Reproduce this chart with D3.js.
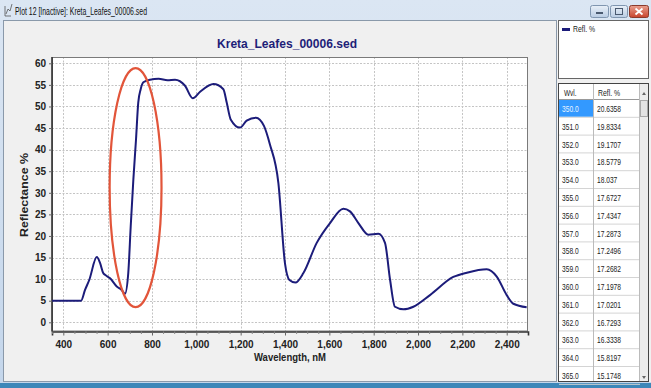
<!DOCTYPE html>
<html><head><meta charset="utf-8">
<script src="https://cdn.jsdelivr.net/npm/d3@7"></script>
<style>
body{margin:0;background:#f0f0f0}
svg{display:block;font-family:"Liberation Sans",Arial,sans-serif}
</style>
</head><body>
<svg id="c" width="651" height="388"></svg>
<script>
// ---- data ----
const wavelengths = [350,480,498,517,551,566,580,588,611,641,663,678,693,704,716,728,738,749,761,791,830,870,904,949,984,1017,1077,1122,1137,1155,1197,1227,1269,1305,1332,1370,1400,1420,1447,1483,1543,1603,1663,1693,1731,1776,1821,1851,1874,1896,1934,1979,2054,2159,2220,2310,2355,2400,2430,2490];
const reflectance = [5.0,5.0,7.5,9.8,15.1,13.7,11.4,11.0,10.2,8.3,7.5,6.6,11.4,22.2,33.1,42.4,50.9,54.0,55.6,56.2,56.4,56.1,56.2,54.8,51.9,53.4,55.2,54.0,50.9,47.0,45.1,46.7,47.4,45.5,41.2,32.3,13.6,9.8,9.2,11.4,18.4,23.0,26.3,25.7,23.0,20.3,20.5,18.4,9.8,3.6,3.0,3.6,6.3,10.5,11.5,12.3,10.6,6.3,4.3,3.5];
const xTicks = [400,600,800,1000,1200,1400,1600,1800,2000,2200,2400];
const yTicks = [0,5,10,15,20,25,30,35,40,45,50,55,60];
const xMinorTicks = d3.range(350, 2500, 50);
const tableWvl = ["350.0","351.0","352.0","353.0","354.0","355.0","356.0","357.0","358.0","359.0","360.0","361.0","362.0","363.0","364.0","365.0"];
const tableRefl = ["20.6358","19.8334","19.1707","18.5779","18.037","17.6727","17.4347","17.2873","17.2496","17.2682","17.1978","17.0201","16.7293","16.3338","15.8197","15.1748"];
const ellipseCenter = [726, 31.2];   // wavelength, reflectance
const ellipseRadii = [117, 27.7];    // nm, %
const chartTitle = "Kreta_Leafes_00006.sed";
const windowTitle = "Plot 12 [Inactive]: Kreta_Leafes_00006.sed";
const seriesName = "Refl. %";

// ---- helpers ----
const svg = d3.select("#c");
function squeeze(sel, f){
  sel.each(function(){
    const l = this.getComputedTextLength();
    this.setAttribute("textLength", (l*f).toFixed(1));
    this.setAttribute("lengthAdjust","spacingAndGlyphs");
  });
  return sel;
}

// ---- window chrome ----
const defs = svg.append("defs");
const g1 = defs.append("linearGradient").attr("id","tb").attr("x1",0).attr("y1",0).attr("x2",0).attr("y2",1);
g1.append("stop").attr("offset","0").attr("stop-color","#dbe6f3");
g1.append("stop").attr("offset","1").attr("stop-color","#c4d6eb");
const g2 = defs.append("linearGradient").attr("id","btn").attr("x1",0).attr("y1",0).attr("x2",0).attr("y2",1);
g2.append("stop").attr("offset","0").attr("stop-color","#e9f0f8");
g2.append("stop").attr("offset","1").attr("stop-color","#b9cce3");
const g3 = defs.append("linearGradient").attr("id","cls").attr("x1",0).attr("y1",0).attr("x2",0).attr("y2",1);
g3.append("stop").attr("offset","0").attr("stop-color","#e9a08f");
g3.append("stop").attr("offset","1").attr("stop-color","#c8432c");

svg.append("rect").attr("x",0).attr("y",0).attr("width",651).attr("height",388).attr("fill","url(#tb)");
// icon
svg.append("path").attr("d","M5,16 L5,6 M5,16 L11,16 M6,14 L8,9 L10,11 L12,4").attr("stroke","#555").attr("fill","none").attr("stroke-width",0.8);
svg.append("text").attr("x",15).attr("y",15).attr("font-size",10.5).attr("fill","#111")
  .attr("textLength",132).attr("lengthAdjust","spacingAndGlyphs").text(windowTitle);

// buttons
svg.append("rect").attr("x",590.5).attr("y",5.5).attr("width",18).attr("height",12).attr("rx",2).attr("fill","url(#btn)").attr("stroke","#8096b0");
svg.append("rect").attr("x",596).attr("y",12).attr("width",7).attr("height",2).attr("fill","#4a5a70");
svg.append("rect").attr("x",610.5).attr("y",5.5).attr("width",17).attr("height",12).attr("rx",2).attr("fill","url(#btn)").attr("stroke","#8096b0");
svg.append("rect").attr("x",615.5).attr("y",8.5).attr("width",7).attr("height",6).attr("fill","none").attr("stroke","#4a5a70");
svg.append("rect").attr("x",629.5).attr("y",5.5).attr("width",19).attr("height",12).attr("rx",2).attr("fill","url(#cls)").attr("stroke","#8a3a2c");
svg.append("path").attr("d","M635.5,8.5 L642.5,14.5 M642.5,8.5 L635.5,14.5").attr("stroke","#fff").attr("stroke-width",1.8);

// panels
svg.append("rect").attr("x",3.5).attr("y",20.5).attr("width",553).attr("height",361).attr("fill","#f0f0f0").attr("stroke","#8a99aa");
svg.append("rect").attr("x",557).attr("y",20).attr("width",94).attr("height",362).attr("fill","#f0f0f0");
svg.append("rect").attr("x",0).attr("y",383).attr("width",651).attr("height",5).attr("fill","#3d87b9");

// legend box
svg.append("rect").attr("x",558.5).attr("y",20.5).attr("width",90).attr("height",58).attr("fill","#fff").attr("stroke","#666");
svg.append("rect").attr("x",562).attr("y",28).attr("width",8).attr("height",3).attr("fill","#1c1c7a");
squeeze(svg.append("text").attr("x",573).attr("y",32).attr("font-size",9).attr("fill","#222").text(seriesName), 0.76);

// table
const tx = 558.5, ty = 83.5, tw = 90, th = 298, headH = 16, rowH = 17.8;
svg.append("rect").attr("x",tx).attr("y",ty).attr("width",tw).attr("height",th).attr("fill","#fff").attr("stroke","#444");
svg.append("rect").attr("x",640).attr("y",84).attr("width",8).attr("height",297).attr("fill","#ececec");
svg.append("rect").attr("x",640.5).attr("y",100.5).attr("width",7).attr("height",16).attr("fill","#e4e4e4").attr("stroke","#aaa");
svg.append("path").attr("d","M642,95 L644,92 L646,95 Z").attr("fill","#666");
svg.append("path").attr("d","M642,376 L644,379 L646,376 Z").attr("fill","#666");
svg.append("line").attr("x1",559).attr("x2",640).attr("y1",ty+headH).attr("y2",ty+headH).attr("stroke","#999");
squeeze(svg.append("text").attr("x",564).attr("y",ty+12).attr("font-size",9).attr("fill","#222").text("Wvl."), 0.72);
squeeze(svg.append("text").attr("x",598).attr("y",ty+12).attr("font-size",9).attr("fill","#222").text("Refl. %"), 0.76);
svg.append("rect").attr("x",559).attr("y",ty+headH+0.5).attr("width",34).attr("height",rowH-1).attr("fill","#3399ff");
const rows = svg.append("g");
tableWvl.forEach((w,i)=>{
  const y0 = ty + headH + i*rowH;
  rows.append("line").attr("x1",559).attr("x2",640).attr("y1",y0+rowH).attr("y2",y0+rowH).attr("stroke","#d4d4d4");
  squeeze(rows.append("text").attr("x",562).attr("y",y0+12.5).attr("font-size",9.5).attr("fill", i===0?"#eaf4ff":"#222").text(w), 0.7);
  squeeze(rows.append("text").attr("x",597).attr("y",y0+12.5).attr("font-size",9.5).attr("fill","#222").text(tableRefl[i]), 0.7);
});
svg.append("line").attr("x1",593.5).attr("x2",593.5).attr("y1",84).attr("y2",381).attr("stroke","#bbb");
svg.append("line").attr("x1",639.5).attr("x2",639.5).attr("y1",84).attr("y2",381).attr("stroke","#bbb");

// ---- chart ----
const L = 52, R = 528, T = 57, B = 331.5;
const x = d3.scaleLinear().domain([349, 2496]).range([L, R]);
const y = d3.scaleLinear().domain([0, 60]).range([322.3, 63.3]);

svg.append("rect").attr("x",L).attr("y",T).attr("width",R-L).attr("height",B-T).attr("fill","#fff");

// grid
const grid = svg.append("g").attr("stroke","#c4c4c4").attr("stroke-dasharray","2,1.5").attr("stroke-width",1);
xTicks.forEach(t=>grid.append("line").attr("x1",Math.round(x(t))+0.5).attr("x2",Math.round(x(t))+0.5).attr("y1",T).attr("y2",B));
yTicks.forEach(t=>grid.append("line").attr("y1",Math.round(y(t))+0.5).attr("y2",Math.round(y(t))+0.5).attr("x1",L).attr("x2",R));

// border
svg.append("rect").attr("x",L+0.5).attr("y",T+0.5).attr("width",R-L-1).attr("height",B-T-1).attr("fill","none").attr("stroke","#7a7a7a");

// axes
const xAxis = d3.axisBottom(x).tickValues(xTicks).tickSize(4).tickPadding(5).tickFormat(d3.format(","));
const gx = svg.append("g").attr("transform",`translate(0,${B})`).call(xAxis);
gx.select(".domain").attr("stroke","#333").attr("stroke-width",1.6);
gx.selectAll(".tick line").attr("stroke","#666");
gx.selectAll("text").attr("font-size",10).attr("font-weight","bold").attr("fill","#222").attr("font-family","Liberation Sans, Arial, sans-serif");
const xMinor = d3.axisBottom(x).tickValues(xMinorTicks.filter(d=>!xTicks.includes(d))).tickSize(2.5).tickFormat("");
const gxm = svg.append("g").attr("transform",`translate(0,${B})`).call(xMinor);
gxm.select(".domain").remove();
gxm.selectAll(".tick line").attr("stroke","#888");

const yAxis = d3.axisLeft(y).tickValues(yTicks).tickSize(3).tickPadding(3);
const gy = svg.append("g").attr("transform",`translate(${L},0)`).call(yAxis);
gy.select(".domain").attr("d",`M0,${T}V${B}`).attr("stroke","#333").attr("stroke-width",1.6);
gy.selectAll(".tick line").attr("stroke","#666");
gy.selectAll("text").attr("font-size",10).attr("font-weight","bold").attr("fill","#222").attr("font-family","Liberation Sans, Arial, sans-serif");

// titles
svg.append("text").attr("x",287).attr("y",48).attr("text-anchor","middle").attr("font-size",12)
  .attr("font-weight","bold").attr("fill","#1e1e78").attr("textLength",140).attr("lengthAdjust","spacingAndGlyphs").text(chartTitle);
svg.append("text").attr("x",290).attr("y",361).attr("text-anchor","middle").attr("font-size",10)
  .attr("font-weight","bold").attr("fill","#222").attr("textLength",72).attr("lengthAdjust","spacingAndGlyphs").text("Wavelength, nM");
svg.append("text").attr("transform","translate(28,195) rotate(-90)").attr("text-anchor","middle").attr("font-size",11)
  .attr("font-weight","bold").attr("fill","#222").attr("textLength",84).attr("lengthAdjust","spacingAndGlyphs").text("Reflectance %");

// series
const data = wavelengths.map((w,i)=>({w, r: reflectance[i]}));
const line = d3.line().x(d=>x(d.w)).y(d=>y(d.r)).curve(d3.curveMonotoneX);
svg.append("path").datum(data).attr("d",line).attr("fill","none").attr("stroke","#1c1c7a").attr("stroke-width",2).attr("stroke-linejoin","round");

// annotation ellipse
svg.append("ellipse").attr("cx",x(ellipseCenter[0])).attr("cy",y(ellipseCenter[1]))
  .attr("rx",x(ellipseCenter[0]+ellipseRadii[0])-x(ellipseCenter[0]))
  .attr("ry",y(ellipseCenter[1]-ellipseRadii[1])-y(ellipseCenter[1]))
  .attr("fill","none").attr("stroke","#e2553a").attr("stroke-width",2.2);
</script>
</body></html>
